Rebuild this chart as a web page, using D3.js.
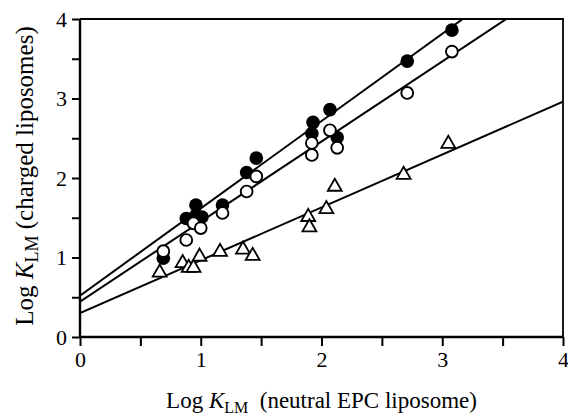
<!DOCTYPE html>
<html>
<head>
<meta charset="utf-8">
<script src="https://cdn.jsdelivr.net/npm/d3@7"></script>
<style>
  html, body { margin: 0; padding: 0; background: #fff; }
  svg { display: block; }
  text { font-family: "Liberation Serif", "Times New Roman", "DejaVu Serif", serif; fill: #000; }
</style>
</head>
<body>
<svg id="chart" width="568" height="415"></svg>
<script>
// ---- data ----
const filledX = [0.69, 0.88, 0.96, 0.96, 1.01, 1.18, 1.38, 1.46, 1.92, 1.93, 2.07, 2.13, 2.71, 3.08];
const filledY = [0.99, 1.49, 1.66, 1.53, 1.51, 1.66, 2.07, 2.25, 2.56, 2.70, 2.86, 2.51, 3.47, 3.86];

const openX = [0.69, 0.88, 0.94, 1.00, 1.18, 1.38, 1.46, 1.92, 1.92, 2.07, 2.13, 2.71, 3.08];
const openY = [1.08, 1.22, 1.43, 1.37, 1.56, 1.83, 2.02, 2.29, 2.44, 2.60, 2.38, 3.07, 3.59];

const triX = [0.66, 0.85, 0.90, 0.94, 0.99, 1.16, 1.35, 1.43, 1.89, 1.90, 2.04, 2.11, 2.68, 3.05];
const triY = [0.81, 0.93, 0.87, 0.87, 1.01, 1.07, 1.10, 1.02, 1.51, 1.38, 1.61, 1.89, 2.04, 2.43];

// fitted lines: filled, open, triangle
const lineIntercepts = [0.52, 0.445, 0.30];
const lineSlopes = [1.098, 1.007, 0.665];

const xTicks = [0, 0.5, 1, 1.5, 2, 2.5, 3, 3.5, 4];
const yTicks = [0, 0.5, 1, 1.5, 2, 2.5, 3, 3.5, 4];
const xTickLabels = ["0", "", "1", "", "2", "", "3", "", "4"];
const yTickLabels = ["0", "", "1", "", "2", "", "3", "", "4"];

// ---- layout ----
const svg = d3.select("#chart");
const pLeft = 80, pRight = 563, pTop = 19, pBottom = 337;

const x = d3.scaleLinear().domain([0, 4]).range([pLeft, pRight]);
const y = d3.scaleLinear().domain([0, 4]).range([pBottom, pTop]);

svg.append("defs").append("clipPath").attr("id", "clip")
  .append("rect").attr("x", pLeft).attr("y", pTop).attr("width", pRight - pLeft).attr("height", pBottom - pTop);

// frame (top and right)
svg.append("path")
  .attr("d", `M${pLeft},${pTop}H${pRight}V${pBottom}`)
  .attr("fill", "none").attr("stroke", "#000").attr("stroke-width", 1.8);

// fitted lines
const plot = svg.append("g").attr("clip-path", "url(#clip)");
lineIntercepts.forEach((b, i) => {
  const m = lineSlopes[i];
  plot.append("line")
    .attr("x1", x(0)).attr("y1", y(b))
    .attr("x2", x(4)).attr("y2", y(b + m * 4))
    .attr("stroke", "#000").attr("stroke-width", 2);
});

// axes
const xAxis = d3.axisBottom(x).tickValues(xTicks)
  .tickFormat((d, i) => xTickLabels[i]).tickSize(9).tickPadding(5);
const yAxis = d3.axisLeft(y).tickValues(yTicks)
  .tickFormat((d, i) => yTickLabels[i]).tickSize(8).tickPadding(5);

const gx = svg.append("g").attr("transform", `translate(0,${pBottom})`).call(xAxis);
const gy = svg.append("g").attr("transform", `translate(${pLeft},0)`).call(yAxis);
[gx, gy].forEach(g => {
  g.select(".domain").attr("stroke", "#000").attr("stroke-width", 2.4);
  g.selectAll(".tick line").attr("stroke", "#000").attr("stroke-width", 2);
  g.selectAll(".tick text").style("font-family", '"Liberation Serif", "Times New Roman", serif')
    .style("font-size", "22px").attr("fill", "#000");
});
gx.select(".domain").attr("d", `M${pLeft},0H${pRight}`);
gy.select(".domain").attr("d", `M0,${pBottom}V${pTop}`);

// points
const tri = d3.symbol().type(d3.symbolTriangle).size(84);
triX.forEach((d, i) => {
  svg.append("path").attr("d", tri())
    .attr("transform", `translate(${x(d)},${y(triY[i])})`)
    .attr("fill", "#fff").attr("stroke", "#000").attr("stroke-width", 1.8);
});
filledX.forEach((d, i) => {
  svg.append("circle").attr("cx", x(d)).attr("cy", y(filledY[i])).attr("r", 6.8).attr("fill", "#000");
});
openX.forEach((d, i) => {
  svg.append("circle").attr("cx", x(d)).attr("cy", y(openY[i])).attr("r", 5.9)
    .attr("fill", "#fff").attr("stroke", "#000").attr("stroke-width", 1.9);
});

// axis titles
const xt = svg.append("text").attr("x", (pLeft + pRight) / 2).attr("y", 408)
  .attr("text-anchor", "middle").style("font-size", "23px");
xt.append("tspan").text("Log ");
xt.append("tspan").style("font-style", "italic").text("K");
xt.append("tspan").attr("dy", 5).style("font-size", "16px").text("LM");
xt.append("tspan").attr("dy", -5).text("\u00a0\u00a0(neutral EPC liposome)");

const yt = svg.append("text")
  .attr("transform", `translate(33,176) rotate(-90)`)
  .attr("text-anchor", "middle").style("font-size", "25px");
yt.append("tspan").text("Log ");
yt.append("tspan").style("font-style", "italic").text("K");
yt.append("tspan").attr("dy", 5).style("font-size", "18px").text("LM");
yt.append("tspan").attr("dy", -5).text(" (charged liposomes)");
</script>
</body>
</html>
